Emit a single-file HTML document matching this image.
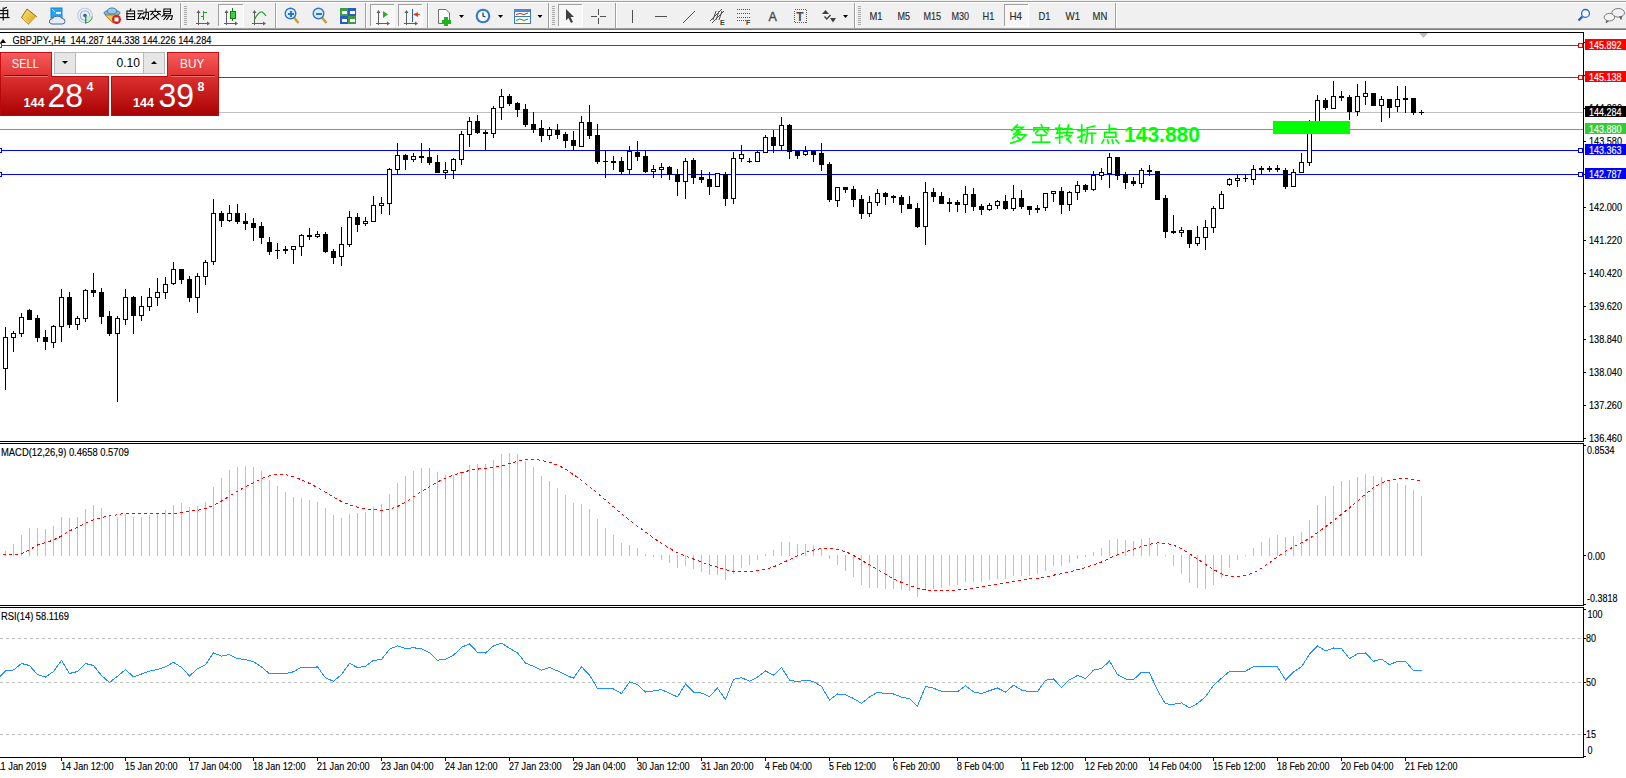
<!DOCTYPE html><html><head><meta charset="utf-8"><style>html,body{margin:0;padding:0;background:#fff;width:1626px;height:778px;overflow:hidden} svg{display:block} text{font-family:"Liberation Sans",sans-serif}</style></head><body><svg width="1626" height="778" shape-rendering="crispEdges" font-family="Liberation Sans"><rect x="0" y="0" width="1626" height="778" fill="#fff" /><rect x="0" y="0" width="1626" height="28" fill="#f0f0f0" /><rect x="0" y="1" width="1626" height="1" fill="#a0a0a0" /><rect x="0" y="2" width="1626" height="1" fill="#ffffff" /><rect x="0" y="28" width="1626" height="1" fill="#a0a0a0" /><rect x="0" y="29" width="1626" height="1" fill="#7a7a7a" /><rect x="0" y="30" width="1626" height="2" fill="#ffffff" /><g shape-rendering="auto"><polyline points="0.00,10.50 7.50,10.50" fill="none" stroke="#000" stroke-width="1.1" stroke-linecap="square" stroke-linejoin="miter"/><polyline points="0.00,13.70 7.50,13.70" fill="none" stroke="#000" stroke-width="1.1" stroke-linecap="square" stroke-linejoin="miter"/><polyline points="-1.00,17.60 9.00,17.60" fill="none" stroke="#000" stroke-width="1.1" stroke-linecap="square" stroke-linejoin="miter"/><polyline points="3.20,8.00 3.20,20.00" fill="none" stroke="#000" stroke-width="1.1" stroke-linecap="square" stroke-linejoin="miter"/><polyline points="7.70,10.00 7.70,16.50" fill="none" stroke="#000" stroke-width="1.1" stroke-linecap="square" stroke-linejoin="miter"/><polyline points="4.50,8.30 6.30,7.50" fill="none" stroke="#000" stroke-width="1.1" stroke-linecap="square" stroke-linejoin="miter"/><defs><linearGradient id="gbook" x1="0" y1="0" x2="1" y2="1"><stop offset="0" stop-color="#fff07a"/><stop offset="1" stop-color="#d39a12"/></linearGradient></defs><polygon points="27,9 36.5,16.5 28.5,24 21.5,17.5" fill="url(#gbook)" stroke="#a0620c" stroke-width="1" /><polyline points="23,18.5 29,23" fill="none" stroke="#f7e2a0" stroke-width="1" /><polyline points="29.5,23 36,17" fill="none" stroke="#e8d8a0" stroke-width="1" /><rect x="51" y="8" width="11" height="10" fill="#26a4f2" stroke="#1680d0" stroke-width="1"/><rect x="56" y="12" width="5" height="2" fill="#e8f6ff" /><polyline points="52,9 55,12" fill="none" stroke="#bfe6ff" stroke-width="1" /><path d="M49.5 22 Q49 18.8 52.5 18.8 Q53.8 15.8 57.5 16.2 Q60.8 15.8 61.8 18.4 Q65 18.4 65 21.6 Q65 24 62 24 L52.2 24 Q49.5 24 49.5 22 Z" fill="#e6ecf5" stroke="#48689e" stroke-width="1"/><circle cx="85" cy="15.5" r="7.3" fill="none" stroke="#b8cce8" stroke-width="1.1"/><circle cx="85" cy="15.5" r="4.8" fill="none" stroke="#9ab4de" stroke-width="1.1"/><path d="M85.5 16 L85.5 23 A7.3 7.3 0 0 0 92.3 16.5" fill="#cfe6cf" stroke="#3a9a3a" stroke-width="0.8"/><circle cx="85" cy="15.5" r="1.8" fill="#2a5cc8"/><rect x="85" y="15.5" width="1.3" height="8" fill="#1ea01e" /><ellipse cx="112" cy="13" rx="8" ry="3" fill="#7ab7e6" stroke="#3f7fb8" stroke-width="1"/><ellipse cx="112" cy="11" rx="4.5" ry="3" fill="#9ccaf0" stroke="#3f7fb8" stroke-width="1"/><polygon points="105,15 119,15 113,23" fill="#f2c64a" stroke="#b08020" stroke-width="1" /><circle cx="116.5" cy="19.5" r="4.5" fill="#d42020"/><rect x="114.5" y="17.5" width="4" height="4" fill="#ffffff" /><polyline points="130.75,9.00 129.80,10.90" fill="none" stroke="#000" stroke-width="1.05" stroke-linecap="square" stroke-linejoin="miter"/><polyline points="126.95,10.90 134.55,10.90 134.55,19.45 126.95,19.45 126.95,10.90" fill="none" stroke="#000" stroke-width="1.05" stroke-linecap="square" stroke-linejoin="miter"/><polyline points="126.95,13.75 134.55,13.75" fill="none" stroke="#000" stroke-width="1.05" stroke-linecap="square" stroke-linejoin="miter"/><polyline points="126.95,16.60 134.55,16.60" fill="none" stroke="#000" stroke-width="1.05" stroke-linecap="square" stroke-linejoin="miter"/><polyline points="138.00,10.90 142.75,10.90" fill="none" stroke="#000" stroke-width="1.05" stroke-linecap="square" stroke-linejoin="miter"/><polyline points="138.00,13.75 143.70,13.75" fill="none" stroke="#000" stroke-width="1.05" stroke-linecap="square" stroke-linejoin="miter"/><polyline points="140.85,13.75 138.00,18.50 143.70,17.55" fill="none" stroke="#000" stroke-width="1.05" stroke-linecap="square" stroke-linejoin="miter"/><polyline points="142.75,16.60 143.70,18.50" fill="none" stroke="#000" stroke-width="1.05" stroke-linecap="square" stroke-linejoin="miter"/><polyline points="143.70,12.32 148.45,12.32 148.45,19.45 146.55,18.50" fill="none" stroke="#000" stroke-width="1.05" stroke-linecap="square" stroke-linejoin="miter"/><polyline points="146.07,9.00 146.07,14.70 143.70,19.45" fill="none" stroke="#000" stroke-width="1.05" stroke-linecap="square" stroke-linejoin="miter"/><polyline points="155.22,9.00 155.22,10.43" fill="none" stroke="#000" stroke-width="1.05" stroke-linecap="square" stroke-linejoin="miter"/><polyline points="150.00,11.38 160.45,11.38" fill="none" stroke="#000" stroke-width="1.05" stroke-linecap="square" stroke-linejoin="miter"/><polyline points="152.85,12.32 150.95,14.70" fill="none" stroke="#000" stroke-width="1.05" stroke-linecap="square" stroke-linejoin="miter"/><polyline points="157.60,12.32 160.45,14.70" fill="none" stroke="#000" stroke-width="1.05" stroke-linecap="square" stroke-linejoin="miter"/><polyline points="152.85,13.75 158.55,19.45" fill="none" stroke="#000" stroke-width="1.05" stroke-linecap="square" stroke-linejoin="miter"/><polyline points="158.55,13.75 150.95,19.45" fill="none" stroke="#000" stroke-width="1.05" stroke-linecap="square" stroke-linejoin="miter"/><polyline points="163.90,9.00 170.55,9.00 170.55,13.75 163.90,13.75 163.90,9.00" fill="none" stroke="#000" stroke-width="1.05" stroke-linecap="square" stroke-linejoin="miter"/><polyline points="163.90,11.38 170.55,11.38" fill="none" stroke="#000" stroke-width="1.05" stroke-linecap="square" stroke-linejoin="miter"/><polyline points="164.85,13.75 162.00,16.60" fill="none" stroke="#000" stroke-width="1.05" stroke-linecap="square" stroke-linejoin="miter"/><polyline points="163.90,15.65 172.45,15.65 171.50,19.45 170.55,19.45" fill="none" stroke="#000" stroke-width="1.05" stroke-linecap="square" stroke-linejoin="miter"/><polyline points="166.75,15.65 163.90,19.45" fill="none" stroke="#000" stroke-width="1.05" stroke-linecap="square" stroke-linejoin="miter"/><polyline points="169.60,15.65 166.75,19.45" fill="none" stroke="#000" stroke-width="1.05" stroke-linecap="square" stroke-linejoin="miter"/></g><rect x="180" y="3" width="1" height="25" fill="#a0a0a0" /><rect x="181" y="3" width="1" height="25" fill="#ffffff" /><rect x="184" y="6" width="3" height="1" fill="#a8a8a8" /><rect x="184" y="8" width="3" height="1" fill="#a8a8a8" /><rect x="184" y="10" width="3" height="1" fill="#a8a8a8" /><rect x="184" y="12" width="3" height="1" fill="#a8a8a8" /><rect x="184" y="14" width="3" height="1" fill="#a8a8a8" /><rect x="184" y="16" width="3" height="1" fill="#a8a8a8" /><rect x="184" y="18" width="3" height="1" fill="#a8a8a8" /><rect x="184" y="20" width="3" height="1" fill="#a8a8a8" /><rect x="184" y="22" width="3" height="1" fill="#a8a8a8" /><rect x="184" y="24" width="3" height="1" fill="#a8a8a8" /><rect x="198" y="11" width="1" height="14" fill="#606060" /><rect x="196" y="23" width="13" height="1" fill="#606060" /><polygon points="196.5,13 198.5,10 200.5,13" fill="#606060" stroke="none" stroke-width="1" shape-rendering="auto"/><polygon points="207,21.5 210,23.5 207,25.5" fill="#606060" stroke="none" stroke-width="1" shape-rendering="auto"/><rect x="203" y="11" width="1" height="9" fill="#1fa01f" /><rect x="201" y="16" width="2" height="1" fill="#1fa01f" /><rect x="204" y="12" width="3" height="1" fill="#1fa01f" /><rect x="218" y="4" width="26" height="23" fill="#f7f7f7" /><rect x="218" y="4" width="26" height="1" fill="#a0a0a0" /><rect x="218" y="4" width="1" height="23" fill="#a0a0a0" /><rect x="218" y="26" width="26" height="1" fill="#ffffff" /><rect x="243" y="4" width="1" height="23" fill="#ffffff" /><rect x="226" y="11" width="1" height="14" fill="#606060" /><rect x="224" y="23" width="13" height="1" fill="#606060" /><polygon points="224.5,13 226.5,10 228.5,13" fill="#606060" stroke="none" stroke-width="1" shape-rendering="auto"/><polygon points="235,21.5 238,23.5 235,25.5" fill="#606060" stroke="none" stroke-width="1" shape-rendering="auto"/><rect x="232" y="8" width="1" height="13" fill="#1a7a1a" /><rect x="230" y="11" width="5" height="7" fill="#3ad43a" stroke="#1a7a1a" stroke-width="1"/><rect x="254" y="11" width="1" height="14" fill="#606060" /><rect x="252" y="23" width="13" height="1" fill="#606060" /><polygon points="252.5,13 254.5,10 256.5,13" fill="#606060" stroke="none" stroke-width="1" shape-rendering="auto"/><polygon points="263,21.5 266,23.5 263,25.5" fill="#606060" stroke="none" stroke-width="1" shape-rendering="auto"/><path d="M254.5 19.5 Q259 11 262 12 Q264 13 266 16" fill="none" stroke="#2aa02a" stroke-width="1.3" shape-rendering="auto"/><rect x="275" y="3" width="1" height="25" fill="#a0a0a0" /><rect x="276" y="3" width="1" height="25" fill="#ffffff" /><line x1="293.5" y1="17" x2="298.5" y2="23" stroke="#c9a227" stroke-width="2.6" shape-rendering="auto"/><circle cx="290.5" cy="13.5" r="5.3" fill="#d6ecfa" stroke="#2f74c8" stroke-width="1.4" shape-rendering="auto"/><rect x="287.5" y="12.5" width="6" height="2" fill="#2f74c8" /><rect x="289.5" y="10.5" width="2" height="6" fill="#2f74c8" /><line x1="321.5" y1="17" x2="326.5" y2="23" stroke="#c9a227" stroke-width="2.6" shape-rendering="auto"/><circle cx="318.5" cy="13.5" r="5.3" fill="#d6ecfa" stroke="#2f74c8" stroke-width="1.4" shape-rendering="auto"/><rect x="315.5" y="12.5" width="6" height="2" fill="#2f74c8" /><rect x="340" y="8" width="8" height="8" fill="#3aa03a" /><rect x="348" y="8" width="8" height="8" fill="#2a5cc8" /><rect x="340" y="16" width="8" height="8" fill="#2a5cc8" /><rect x="348" y="16" width="8" height="8" fill="#3aa03a" /><rect x="342" y="11" width="5" height="3" fill="#ffffff" /><rect x="350" y="11" width="5" height="3" fill="#ffffff" /><rect x="342" y="19" width="5" height="3" fill="#ffffff" /><rect x="350" y="19" width="5" height="3" fill="#ffffff" /><rect x="365" y="3" width="1" height="25" fill="#a0a0a0" /><rect x="366" y="3" width="1" height="25" fill="#ffffff" /><rect x="370" y="4" width="25" height="23" fill="#f7f7f7" /><rect x="370" y="4" width="25" height="1" fill="#a0a0a0" /><rect x="370" y="4" width="1" height="23" fill="#a0a0a0" /><rect x="370" y="26" width="25" height="1" fill="#ffffff" /><rect x="394" y="4" width="1" height="23" fill="#ffffff" /><rect x="378" y="11" width="1" height="14" fill="#606060" /><rect x="376" y="23" width="13" height="1" fill="#606060" /><polygon points="376.5,13 378.5,10 380.5,13" fill="#606060" stroke="none" stroke-width="1" shape-rendering="auto"/><polygon points="387,21.5 390,23.5 387,25.5" fill="#606060" stroke="none" stroke-width="1" shape-rendering="auto"/><polygon points="383,11 388,14.5 383,18" fill="#2ab02a" stroke="none" stroke-width="1" shape-rendering="auto"/><rect x="398" y="4" width="25" height="23" fill="#f7f7f7" /><rect x="398" y="4" width="25" height="1" fill="#a0a0a0" /><rect x="398" y="4" width="1" height="23" fill="#a0a0a0" /><rect x="398" y="26" width="25" height="1" fill="#ffffff" /><rect x="422" y="4" width="1" height="23" fill="#ffffff" /><rect x="406" y="11" width="1" height="14" fill="#606060" /><rect x="404" y="23" width="13" height="1" fill="#606060" /><polygon points="404.5,13 406.5,10 408.5,13" fill="#606060" stroke="none" stroke-width="1" shape-rendering="auto"/><polygon points="415,21.5 418,23.5 415,25.5" fill="#606060" stroke="none" stroke-width="1" shape-rendering="auto"/><rect x="412" y="9" width="1" height="13" fill="#1f5fbf" /><polygon points="413,14.5 418,12 418,17" fill="#e04020" stroke="none" stroke-width="1" shape-rendering="auto"/><rect x="416" y="14" width="4" height="1" fill="#e04020" /><rect x="427" y="3" width="1" height="25" fill="#a0a0a0" /><rect x="428" y="3" width="1" height="25" fill="#ffffff" /><path d="M438.5 9.5 H446 L449.5 13 V23.5 H438.5 Z" fill="#ffffff" stroke="#707070" stroke-width="1" shape-rendering="auto"/><rect x="444" y="17" width="4" height="9" fill="#1fb41f" /><rect x="441.5" y="19.5" width="9" height="4" fill="#1fb41f" /><polygon points="459.0,15 464.0,15 461.5,18" fill="#000" stroke="none" stroke-width="1" shape-rendering="auto"/><circle cx="483" cy="16" r="7.3" fill="#2f7ad6" shape-rendering="auto"/><circle cx="483" cy="16" r="5.2" fill="#f4f8ff" shape-rendering="auto"/><polyline points="483,12.5 483,16 485.5,17" fill="none" stroke="#333" stroke-width="1.2" shape-rendering="auto"/><polygon points="498.0,15 503.0,15 500.5,18" fill="#000" stroke="none" stroke-width="1" shape-rendering="auto"/><rect x="514" y="9" width="16" height="14" fill="#ffffff" stroke="#3a78c8" stroke-width="1"/><rect x="514" y="9" width="16" height="3" fill="#4a88d8" /><rect x="514" y="16" width="16" height="1" fill="#3a78c8" /><polyline points="516,14.5 520,13.5 524,14.5 528,13" fill="none" stroke="#b03020" stroke-width="1" shape-rendering="auto"/><polyline points="516,20.5 520,19 524,20.5 528,19" fill="none" stroke="#20a020" stroke-width="1" shape-rendering="auto"/><polygon points="537.5,15 542.5,15 540,18" fill="#000" stroke="none" stroke-width="1" shape-rendering="auto"/><rect x="548" y="3" width="1" height="25" fill="#a0a0a0" /><rect x="549" y="3" width="1" height="25" fill="#ffffff" /><rect x="552" y="6" width="3" height="1" fill="#a8a8a8" /><rect x="552" y="8" width="3" height="1" fill="#a8a8a8" /><rect x="552" y="10" width="3" height="1" fill="#a8a8a8" /><rect x="552" y="12" width="3" height="1" fill="#a8a8a8" /><rect x="552" y="14" width="3" height="1" fill="#a8a8a8" /><rect x="552" y="16" width="3" height="1" fill="#a8a8a8" /><rect x="552" y="18" width="3" height="1" fill="#a8a8a8" /><rect x="552" y="20" width="3" height="1" fill="#a8a8a8" /><rect x="552" y="22" width="3" height="1" fill="#a8a8a8" /><rect x="552" y="24" width="3" height="1" fill="#a8a8a8" /><rect x="558" y="4" width="25" height="23" fill="#f7f7f7" /><rect x="558" y="4" width="25" height="1" fill="#a0a0a0" /><rect x="558" y="4" width="1" height="23" fill="#a0a0a0" /><rect x="558" y="26" width="25" height="1" fill="#ffffff" /><rect x="582" y="4" width="1" height="23" fill="#ffffff" /><polygon points="566,9 574,17 570.5,17 573,22 571,23 568.5,18 566,20.5" fill="#404040" stroke="none" stroke-width="1" shape-rendering="auto"/><rect x="598" y="9" width="1" height="6" fill="#505050" /><rect x="598" y="18" width="1" height="6" fill="#505050" /><rect x="591" y="16" width="6" height="1" fill="#505050" /><rect x="600" y="16" width="6" height="1" fill="#505050" /><rect x="615" y="3" width="1" height="25" fill="#a0a0a0" /><rect x="616" y="3" width="1" height="25" fill="#ffffff" /><rect x="632" y="10" width="1" height="13" fill="#505050" /><rect x="655" y="16" width="12" height="1" fill="#505050" /><polyline points="683,23 695,11" fill="none" stroke="#505050" stroke-width="1" shape-rendering="auto"/><polyline points="710,21 722,9" fill="none" stroke="#505050" stroke-width="1" shape-rendering="auto"/><polyline points="712,23 724,11" fill="none" stroke="#505050" stroke-width="1" shape-rendering="auto"/><polyline points="713,20 716,11" fill="none" stroke="#505050" stroke-width="1" shape-rendering="auto"/><polyline points="716,20 719,11" fill="none" stroke="#505050" stroke-width="1" shape-rendering="auto"/><polyline points="719,20 722,11" fill="none" stroke="#505050" stroke-width="1" shape-rendering="auto"/><text x="720" y="25" font-size="7" fill="#404040" font-weight="bold" >E</text><line x1="737" y1="9.5" x2="750" y2="9.5" stroke="#505050" stroke-width="1" stroke-dasharray="1,1"/><line x1="737" y1="13.5" x2="750" y2="13.5" stroke="#505050" stroke-width="1" stroke-dasharray="1,1"/><line x1="737" y1="17.5" x2="750" y2="17.5" stroke="#505050" stroke-width="1" stroke-dasharray="1,1"/><line x1="737" y1="20.5" x2="750" y2="20.5" stroke="#505050" stroke-width="1" stroke-dasharray="1,1"/><text x="746" y="25" font-size="7" fill="#404040" font-weight="bold" >F</text><text x="768.5" y="21" font-size="12.5" fill="#4a4a4a" stroke="#4a4a4a" stroke-width="0.35">A</text><rect x="794.5" y="9.5" width="12" height="13" fill="none" stroke="#606060" stroke-width="1" stroke-dasharray="1,1"/><text x="796.3" y="21" font-size="12" fill="#4a4a4a" font-weight="bold" >T</text><polygon points="822,14 825.5,10 829,14" fill="#404040" stroke="none" stroke-width="1" shape-rendering="auto"/><polygon points="830,18 833,22.5 836,18" fill="#404040" stroke="none" stroke-width="1" shape-rendering="auto"/><polyline points="824.5,16.5 826.8,19 830.5,15" fill="none" stroke="#404040" stroke-width="1.4" shape-rendering="auto"/><polygon points="843.0,15 848.0,15 845.5,18" fill="#000" stroke="none" stroke-width="1" shape-rendering="auto"/><rect x="854" y="3" width="1" height="25" fill="#a0a0a0" /><rect x="855" y="3" width="1" height="25" fill="#ffffff" /><rect x="858" y="6" width="3" height="1" fill="#a8a8a8" /><rect x="858" y="8" width="3" height="1" fill="#a8a8a8" /><rect x="858" y="10" width="3" height="1" fill="#a8a8a8" /><rect x="858" y="12" width="3" height="1" fill="#a8a8a8" /><rect x="858" y="14" width="3" height="1" fill="#a8a8a8" /><rect x="858" y="16" width="3" height="1" fill="#a8a8a8" /><rect x="858" y="18" width="3" height="1" fill="#a8a8a8" /><rect x="858" y="20" width="3" height="1" fill="#a8a8a8" /><rect x="858" y="22" width="3" height="1" fill="#a8a8a8" /><rect x="858" y="24" width="3" height="1" fill="#a8a8a8" /><text x="869.5" y="20" font-size="10.5" fill="#2c2c2c" textLength="13" lengthAdjust="spacingAndGlyphs"  stroke="#2c2c2c" stroke-width="0.15">M1</text><text x="897.5" y="20" font-size="10.5" fill="#2c2c2c" textLength="12.6" lengthAdjust="spacingAndGlyphs"  stroke="#2c2c2c" stroke-width="0.15">M5</text><text x="923.5" y="20" font-size="10.5" fill="#2c2c2c" textLength="17.6" lengthAdjust="spacingAndGlyphs"  stroke="#2c2c2c" stroke-width="0.15">M15</text><text x="951.5" y="20" font-size="10.5" fill="#2c2c2c" textLength="17.6" lengthAdjust="spacingAndGlyphs"  stroke="#2c2c2c" stroke-width="0.15">M30</text><text x="982.5" y="20" font-size="10.5" fill="#2c2c2c" textLength="11.8" lengthAdjust="spacingAndGlyphs"  stroke="#2c2c2c" stroke-width="0.15">H1</text><text x="1038.5" y="20" font-size="10.5" fill="#2c2c2c" textLength="12" lengthAdjust="spacingAndGlyphs"  stroke="#2c2c2c" stroke-width="0.15">D1</text><text x="1065.5" y="20" font-size="10.5" fill="#2c2c2c" textLength="14.6" lengthAdjust="spacingAndGlyphs"  stroke="#2c2c2c" stroke-width="0.15">W1</text><text x="1092.5" y="20" font-size="10.5" fill="#2c2c2c" textLength="14.8" lengthAdjust="spacingAndGlyphs"  stroke="#2c2c2c" stroke-width="0.15">MN</text><rect x="1004" y="4" width="25" height="23" fill="#f7f7f7" /><rect x="1004" y="4" width="25" height="1" fill="#a0a0a0" /><rect x="1004" y="4" width="1" height="23" fill="#a0a0a0" /><rect x="1004" y="26" width="25" height="1" fill="#ffffff" /><rect x="1028" y="4" width="1" height="23" fill="#ffffff" /><text x="1009.5" y="20" font-size="10.5" fill="#2c2c2c" textLength="12.6" lengthAdjust="spacingAndGlyphs"  stroke="#2c2c2c" stroke-width="0.15">H4</text><rect x="1115" y="3" width="1" height="25" fill="#a0a0a0" /><rect x="1116" y="3" width="1" height="25" fill="#ffffff" /><g shape-rendering="auto"><line x1="1578.5" y1="20.5" x2="1582.5" y2="16.5" stroke="#1f5fcf" stroke-width="2.4"/><circle cx="1585.5" cy="13.4" r="3.9" fill="#fbfbff" stroke="#1f62d8" stroke-width="1.3"/><ellipse cx="1618.2" cy="12.8" rx="6.3" ry="4.3" fill="#f2f2f6" stroke="#7a7a7a" stroke-width="1"/><path d="M1619.5 16.5 L1621 19.5 L1622 16" fill="#606060" stroke="#606060" stroke-width="0.8"/><ellipse cx="1609.4" cy="17.2" rx="5.2" ry="3.8" fill="#f2f2f6" stroke="#7a7a7a" stroke-width="1"/><path d="M1606.5 20.5 L1606 23 L1608.5 21" fill="#606060" stroke="#606060" stroke-width="0.8"/></g><rect x="0" y="32" width="1583" height="1" fill="#000" /><rect x="1583" y="32" width="1" height="410" fill="#000" /><rect x="0" y="441" width="1584" height="1" fill="#000" /><rect x="0" y="443" width="1584" height="1" fill="#000" /><rect x="1583" y="443" width="1" height="163" fill="#000" /><rect x="0" y="605" width="1584" height="1" fill="#000" /><rect x="0" y="607" width="1584" height="1" fill="#000" /><rect x="1583" y="607" width="1" height="151" fill="#000" /><rect x="0" y="757" width="1584" height="1" fill="#000" /><rect x="0" y="112" width="1583" height="1" fill="#c0c0c0" /><rect x="0" y="129" width="1583" height="1" fill="#32cd32" /><rect x="0" y="45" width="1583" height="1" fill="#ff0000" /><rect x="-2.5" y="43.5" width="4" height="4" fill="#fff" stroke="#ff0000" stroke-width="1"/><rect x="1578.5" y="43.5" width="4" height="4" fill="#fff" stroke="#ff0000" stroke-width="1"/><rect x="0" y="77" width="1583" height="1" fill="#ff0000" /><rect x="-2.5" y="75.5" width="4" height="4" fill="#fff" stroke="#ff0000" stroke-width="1"/><rect x="1578.5" y="75.5" width="4" height="4" fill="#fff" stroke="#ff0000" stroke-width="1"/><rect x="0" y="150" width="1583" height="1" fill="#0000ff" /><rect x="-2.5" y="148.5" width="4" height="4" fill="#fff" stroke="#0000ff" stroke-width="1"/><rect x="1578.5" y="148.5" width="4" height="4" fill="#fff" stroke="#0000ff" stroke-width="1"/><rect x="0" y="174" width="1583" height="1" fill="#0000ff" /><rect x="-2.5" y="172.5" width="4" height="4" fill="#fff" stroke="#0000ff" stroke-width="1"/><rect x="1578.5" y="172.5" width="4" height="4" fill="#fff" stroke="#0000ff" stroke-width="1"/><rect x="5" y="327" width="1" height="63" fill="#000" /><rect x="3.5" y="337.5" width="4" height="31" fill="#fff" stroke="#000" stroke-width="1"/><rect x="13" y="331" width="1" height="21" fill="#000" /><rect x="11.5" y="333.5" width="4" height="4" fill="#fff" stroke="#000" stroke-width="1"/><rect x="21" y="313" width="1" height="24" fill="#000" /><rect x="19.5" y="317.5" width="4" height="16" fill="#fff" stroke="#000" stroke-width="1"/><rect x="29" y="309" width="1" height="11" fill="#000" /><rect x="27" y="310" width="5" height="10" fill="#000" /><rect x="37" y="315" width="1" height="27" fill="#000" /><rect x="35" y="318" width="5" height="20" fill="#000" /><rect x="45" y="330" width="1" height="20" fill="#000" /><rect x="43" y="337" width="5" height="5" fill="#000" /><rect x="53" y="325" width="1" height="23" fill="#000" /><rect x="51.5" y="326.5" width="4" height="16" fill="#fff" stroke="#000" stroke-width="1"/><rect x="61" y="289" width="1" height="53" fill="#000" /><rect x="59.5" y="297.5" width="4" height="29" fill="#fff" stroke="#000" stroke-width="1"/><rect x="69" y="292" width="1" height="36" fill="#000" /><rect x="67" y="297" width="5" height="28" fill="#000" /><rect x="77" y="316" width="1" height="14" fill="#000" /><rect x="75.5" y="318.5" width="4" height="6" fill="#fff" stroke="#000" stroke-width="1"/><rect x="85" y="289" width="1" height="33" fill="#000" /><rect x="83.5" y="290.5" width="4" height="28" fill="#fff" stroke="#000" stroke-width="1"/><rect x="93" y="273" width="1" height="24" fill="#000" /><rect x="91" y="290" width="5" height="3" fill="#000" /><rect x="101" y="288" width="1" height="36" fill="#000" /><rect x="99" y="292" width="5" height="25" fill="#000" /><rect x="109" y="311" width="1" height="25" fill="#000" /><rect x="107" y="316" width="5" height="18" fill="#000" /><rect x="117" y="316" width="1" height="86" fill="#000" /><rect x="115.5" y="318.5" width="4" height="15" fill="#fff" stroke="#000" stroke-width="1"/><rect x="125" y="289" width="1" height="36" fill="#000" /><rect x="123.5" y="297.5" width="4" height="22" fill="#fff" stroke="#000" stroke-width="1"/><rect x="133" y="296" width="1" height="38" fill="#000" /><rect x="131" y="297" width="5" height="19" fill="#000" /><rect x="141" y="296" width="1" height="25" fill="#000" /><rect x="139.5" y="306.5" width="4" height="9" fill="#fff" stroke="#000" stroke-width="1"/><rect x="149" y="288" width="1" height="23" fill="#000" /><rect x="147.5" y="297.5" width="4" height="9" fill="#fff" stroke="#000" stroke-width="1"/><rect x="157" y="278" width="1" height="28" fill="#000" /><rect x="155.5" y="292.5" width="4" height="5" fill="#fff" stroke="#000" stroke-width="1"/><rect x="165" y="277" width="1" height="22" fill="#000" /><rect x="163.5" y="284.5" width="4" height="8" fill="#fff" stroke="#000" stroke-width="1"/><rect x="173" y="262" width="1" height="23" fill="#000" /><rect x="171.5" y="269.5" width="4" height="14" fill="#fff" stroke="#000" stroke-width="1"/><rect x="181" y="269" width="1" height="15" fill="#000" /><rect x="179" y="269" width="5" height="11" fill="#000" /><rect x="189" y="276" width="1" height="26" fill="#000" /><rect x="187" y="279" width="5" height="19" fill="#000" /><rect x="197" y="273" width="1" height="40" fill="#000" /><rect x="195.5" y="276.5" width="4" height="21" fill="#fff" stroke="#000" stroke-width="1"/><rect x="205" y="260" width="1" height="25" fill="#000" /><rect x="203.5" y="262.5" width="4" height="14" fill="#fff" stroke="#000" stroke-width="1"/><rect x="213" y="199" width="1" height="66" fill="#000" /><rect x="211.5" y="213.5" width="4" height="48" fill="#fff" stroke="#000" stroke-width="1"/><rect x="221" y="211" width="1" height="16" fill="#000" /><rect x="219" y="213" width="5" height="8" fill="#000" /><rect x="229" y="205" width="1" height="17" fill="#000" /><rect x="227.5" y="213.5" width="4" height="7" fill="#fff" stroke="#000" stroke-width="1"/><rect x="237" y="204" width="1" height="20" fill="#000" /><rect x="235" y="213" width="5" height="9" fill="#000" /><rect x="245" y="213" width="1" height="17" fill="#000" /><rect x="243" y="221" width="5" height="3" fill="#000" /><rect x="253" y="218" width="1" height="23" fill="#000" /><rect x="251" y="223" width="5" height="5" fill="#000" /><rect x="261" y="222" width="1" height="22" fill="#000" /><rect x="259" y="226" width="5" height="12" fill="#000" /><rect x="269" y="237" width="1" height="18" fill="#000" /><rect x="267" y="242" width="5" height="10" fill="#000" /><rect x="277" y="243" width="1" height="16" fill="#000" /><rect x="275" y="250" width="5" height="1" fill="#000" /><rect x="285" y="246" width="1" height="8" fill="#000" /><rect x="283" y="249" width="5" height="2" fill="#000" /><rect x="293" y="246" width="1" height="18" fill="#000" /><rect x="291.5" y="246.5" width="4" height="3" fill="#fff" stroke="#000" stroke-width="1"/><rect x="301" y="234" width="1" height="22" fill="#000" /><rect x="299.5" y="235.5" width="4" height="11" fill="#fff" stroke="#000" stroke-width="1"/><rect x="309" y="228" width="1" height="12" fill="#000" /><rect x="307" y="235" width="5" height="2" fill="#000" /><rect x="317" y="231" width="1" height="7" fill="#000" /><rect x="315.5" y="234.5" width="4" height="2" fill="#fff" stroke="#000" stroke-width="1"/><rect x="325" y="232" width="1" height="21" fill="#000" /><rect x="323" y="234" width="5" height="18" fill="#000" /><rect x="333" y="249" width="1" height="15" fill="#000" /><rect x="331" y="251" width="5" height="7" fill="#000" /><rect x="341" y="227" width="1" height="39" fill="#000" /><rect x="339.5" y="244.5" width="4" height="12" fill="#fff" stroke="#000" stroke-width="1"/><rect x="349" y="211" width="1" height="36" fill="#000" /><rect x="347.5" y="217.5" width="4" height="27" fill="#fff" stroke="#000" stroke-width="1"/><rect x="357" y="213" width="1" height="19" fill="#000" /><rect x="355" y="217" width="5" height="8" fill="#000" /><rect x="365" y="217" width="1" height="9" fill="#000" /><rect x="363.5" y="221.5" width="4" height="2" fill="#fff" stroke="#000" stroke-width="1"/><rect x="373" y="196" width="1" height="26" fill="#000" /><rect x="371.5" y="205.5" width="4" height="16" fill="#fff" stroke="#000" stroke-width="1"/><rect x="381" y="197" width="1" height="17" fill="#000" /><rect x="379.5" y="203.5" width="4" height="2" fill="#fff" stroke="#000" stroke-width="1"/><rect x="389" y="168" width="1" height="47" fill="#000" /><rect x="387.5" y="169.5" width="4" height="34" fill="#fff" stroke="#000" stroke-width="1"/><rect x="397" y="143" width="1" height="32" fill="#000" /><rect x="395.5" y="155.5" width="4" height="14" fill="#fff" stroke="#000" stroke-width="1"/><rect x="405" y="154" width="1" height="16" fill="#000" /><rect x="403" y="155" width="5" height="5" fill="#000" /><rect x="413" y="153" width="1" height="9" fill="#000" /><rect x="411.5" y="156.5" width="4" height="3" fill="#fff" stroke="#000" stroke-width="1"/><rect x="421" y="143" width="1" height="20" fill="#000" /><rect x="419" y="156" width="5" height="2" fill="#000" /><rect x="429" y="148" width="1" height="17" fill="#000" /><rect x="427" y="157" width="5" height="6" fill="#000" /><rect x="437" y="155" width="1" height="18" fill="#000" /><rect x="435" y="162" width="5" height="11" fill="#000" /><rect x="445" y="162" width="1" height="17" fill="#000" /><rect x="443.5" y="170.5" width="4" height="2" fill="#fff" stroke="#000" stroke-width="1"/><rect x="453" y="158" width="1" height="21" fill="#000" /><rect x="451.5" y="159.5" width="4" height="11" fill="#fff" stroke="#000" stroke-width="1"/><rect x="461" y="131" width="1" height="34" fill="#000" /><rect x="459.5" y="134.5" width="4" height="25" fill="#fff" stroke="#000" stroke-width="1"/><rect x="469" y="117" width="1" height="30" fill="#000" /><rect x="467.5" y="121.5" width="4" height="13" fill="#fff" stroke="#000" stroke-width="1"/><rect x="477" y="115" width="1" height="19" fill="#000" /><rect x="475" y="121" width="5" height="12" fill="#000" /><rect x="485" y="130" width="1" height="20" fill="#000" /><rect x="483" y="132" width="5" height="2" fill="#000" /><rect x="493" y="106" width="1" height="32" fill="#000" /><rect x="491.5" y="108.5" width="4" height="25" fill="#fff" stroke="#000" stroke-width="1"/><rect x="501" y="89" width="1" height="31" fill="#000" /><rect x="499.5" y="96.5" width="4" height="11" fill="#fff" stroke="#000" stroke-width="1"/><rect x="509" y="94" width="1" height="12" fill="#000" /><rect x="507" y="96" width="5" height="8" fill="#000" /><rect x="517" y="102" width="1" height="15" fill="#000" /><rect x="515" y="103" width="5" height="7" fill="#000" /><rect x="525" y="104" width="1" height="23" fill="#000" /><rect x="523" y="109" width="5" height="16" fill="#000" /><rect x="533" y="112" width="1" height="21" fill="#000" /><rect x="531" y="124" width="5" height="6" fill="#000" /><rect x="541" y="120" width="1" height="22" fill="#000" /><rect x="539" y="128" width="5" height="8" fill="#000" /><rect x="549" y="127" width="1" height="13" fill="#000" /><rect x="547.5" y="129.5" width="4" height="6" fill="#fff" stroke="#000" stroke-width="1"/><rect x="557" y="124" width="1" height="15" fill="#000" /><rect x="555" y="130" width="5" height="5" fill="#000" /><rect x="565" y="132" width="1" height="16" fill="#000" /><rect x="563" y="134" width="5" height="7" fill="#000" /><rect x="573" y="131" width="1" height="20" fill="#000" /><rect x="571" y="140" width="5" height="6" fill="#000" /><rect x="581" y="116" width="1" height="31" fill="#000" /><rect x="579.5" y="122.5" width="4" height="24" fill="#fff" stroke="#000" stroke-width="1"/><rect x="589" y="105" width="1" height="34" fill="#000" /><rect x="587" y="122" width="5" height="14" fill="#000" /><rect x="597" y="124" width="1" height="40" fill="#000" /><rect x="595" y="135" width="5" height="27" fill="#000" /><rect x="605" y="150" width="1" height="28" fill="#000" /><rect x="603" y="161" width="5" height="1" fill="#000" /><rect x="613" y="156" width="1" height="14" fill="#000" /><rect x="611" y="161" width="5" height="2" fill="#000" /><rect x="621" y="157" width="1" height="18" fill="#000" /><rect x="619" y="161" width="5" height="11" fill="#000" /><rect x="629" y="146" width="1" height="29" fill="#000" /><rect x="627.5" y="151.5" width="4" height="18" fill="#fff" stroke="#000" stroke-width="1"/><rect x="637" y="141" width="1" height="20" fill="#000" /><rect x="635" y="152" width="5" height="5" fill="#000" /><rect x="645" y="150" width="1" height="23" fill="#000" /><rect x="643" y="156" width="5" height="16" fill="#000" /><rect x="653" y="165" width="1" height="13" fill="#000" /><rect x="651.5" y="169.5" width="4" height="2" fill="#fff" stroke="#000" stroke-width="1"/><rect x="661" y="163" width="1" height="15" fill="#000" /><rect x="659.5" y="167.5" width="4" height="2" fill="#fff" stroke="#000" stroke-width="1"/><rect x="669" y="166" width="1" height="14" fill="#000" /><rect x="667" y="167" width="5" height="8" fill="#000" /><rect x="677" y="169" width="1" height="27" fill="#000" /><rect x="675" y="174" width="5" height="8" fill="#000" /><rect x="685" y="158" width="1" height="41" fill="#000" /><rect x="683.5" y="161.5" width="4" height="20" fill="#fff" stroke="#000" stroke-width="1"/><rect x="693" y="158" width="1" height="26" fill="#000" /><rect x="691" y="160" width="5" height="18" fill="#000" /><rect x="701" y="170" width="1" height="13" fill="#000" /><rect x="699" y="177" width="5" height="3" fill="#000" /><rect x="709" y="172" width="1" height="23" fill="#000" /><rect x="707" y="179" width="5" height="8" fill="#000" /><rect x="717" y="173" width="1" height="14" fill="#000" /><rect x="715.5" y="173.5" width="4" height="13" fill="#fff" stroke="#000" stroke-width="1"/><rect x="725" y="172" width="1" height="34" fill="#000" /><rect x="723" y="174" width="5" height="25" fill="#000" /><rect x="733" y="152" width="1" height="52" fill="#000" /><rect x="731.5" y="158.5" width="4" height="40" fill="#fff" stroke="#000" stroke-width="1"/><rect x="741" y="145" width="1" height="17" fill="#000" /><rect x="739.5" y="154.5" width="4" height="4" fill="#fff" stroke="#000" stroke-width="1"/><rect x="749" y="158" width="1" height="5" fill="#000" /><rect x="747" y="161" width="5" height="1" fill="#000" /><rect x="757" y="151" width="1" height="11" fill="#000" /><rect x="755.5" y="152.5" width="4" height="9" fill="#fff" stroke="#000" stroke-width="1"/><rect x="765" y="135" width="1" height="18" fill="#000" /><rect x="763.5" y="137.5" width="4" height="15" fill="#fff" stroke="#000" stroke-width="1"/><rect x="773" y="130" width="1" height="23" fill="#000" /><rect x="771" y="137" width="5" height="9" fill="#000" /><rect x="781" y="117" width="1" height="34" fill="#000" /><rect x="779.5" y="125.5" width="4" height="20" fill="#fff" stroke="#000" stroke-width="1"/><rect x="789" y="124" width="1" height="35" fill="#000" /><rect x="787" y="125" width="5" height="27" fill="#000" /><rect x="797" y="150" width="1" height="9" fill="#000" /><rect x="795" y="151" width="5" height="5" fill="#000" /><rect x="805" y="146" width="1" height="10" fill="#000" /><rect x="803.5" y="151.5" width="4" height="3" fill="#fff" stroke="#000" stroke-width="1"/><rect x="813" y="150" width="1" height="12" fill="#000" /><rect x="811" y="151" width="5" height="4" fill="#000" /><rect x="821" y="143" width="1" height="28" fill="#000" /><rect x="819" y="153" width="5" height="12" fill="#000" /><rect x="829" y="162" width="1" height="40" fill="#000" /><rect x="827" y="164" width="5" height="36" fill="#000" /><rect x="837" y="187" width="1" height="20" fill="#000" /><rect x="835.5" y="187.5" width="4" height="13" fill="#fff" stroke="#000" stroke-width="1"/><rect x="845" y="187" width="1" height="6" fill="#000" /><rect x="843" y="187" width="5" height="3" fill="#000" /><rect x="853" y="186" width="1" height="21" fill="#000" /><rect x="851" y="189" width="5" height="11" fill="#000" /><rect x="861" y="195" width="1" height="24" fill="#000" /><rect x="859" y="199" width="5" height="15" fill="#000" /><rect x="869" y="196" width="1" height="21" fill="#000" /><rect x="867.5" y="202.5" width="4" height="11" fill="#fff" stroke="#000" stroke-width="1"/><rect x="877" y="189" width="1" height="17" fill="#000" /><rect x="875.5" y="193.5" width="4" height="9" fill="#fff" stroke="#000" stroke-width="1"/><rect x="885" y="192" width="1" height="13" fill="#000" /><rect x="883" y="193" width="5" height="4" fill="#000" /><rect x="893" y="195" width="1" height="8" fill="#000" /><rect x="891" y="196" width="5" height="2" fill="#000" /><rect x="901" y="195" width="1" height="18" fill="#000" /><rect x="899" y="197" width="5" height="8" fill="#000" /><rect x="909" y="196" width="1" height="13" fill="#000" /><rect x="907" y="204" width="5" height="5" fill="#000" /><rect x="917" y="203" width="1" height="25" fill="#000" /><rect x="915" y="208" width="5" height="19" fill="#000" /><rect x="925" y="182" width="1" height="63" fill="#000" /><rect x="923.5" y="192.5" width="4" height="34" fill="#fff" stroke="#000" stroke-width="1"/><rect x="933" y="188" width="1" height="14" fill="#000" /><rect x="931" y="192" width="5" height="5" fill="#000" /><rect x="941" y="192" width="1" height="12" fill="#000" /><rect x="939" y="196" width="5" height="8" fill="#000" /><rect x="949" y="198" width="1" height="14" fill="#000" /><rect x="947" y="202" width="5" height="2" fill="#000" /><rect x="957" y="200" width="1" height="12" fill="#000" /><rect x="955" y="202" width="5" height="3" fill="#000" /><rect x="965" y="186" width="1" height="27" fill="#000" /><rect x="963.5" y="194.5" width="4" height="10" fill="#fff" stroke="#000" stroke-width="1"/><rect x="973" y="188" width="1" height="23" fill="#000" /><rect x="971" y="194" width="5" height="13" fill="#000" /><rect x="981" y="204" width="1" height="11" fill="#000" /><rect x="979" y="206" width="5" height="4" fill="#000" /><rect x="989" y="203" width="1" height="8" fill="#000" /><rect x="987.5" y="205.5" width="4" height="4" fill="#fff" stroke="#000" stroke-width="1"/><rect x="997" y="200" width="1" height="9" fill="#000" /><rect x="995.5" y="201.5" width="4" height="4" fill="#fff" stroke="#000" stroke-width="1"/><rect x="1005" y="195" width="1" height="15" fill="#000" /><rect x="1003" y="201" width="5" height="8" fill="#000" /><rect x="1013" y="185" width="1" height="26" fill="#000" /><rect x="1011.5" y="198.5" width="4" height="10" fill="#fff" stroke="#000" stroke-width="1"/><rect x="1021" y="190" width="1" height="19" fill="#000" /><rect x="1019" y="198" width="5" height="9" fill="#000" /><rect x="1029" y="206" width="1" height="9" fill="#000" /><rect x="1027" y="206" width="5" height="4" fill="#000" /><rect x="1037" y="205" width="1" height="8" fill="#000" /><rect x="1035" y="208" width="5" height="2" fill="#000" /><rect x="1045" y="193" width="1" height="18" fill="#000" /><rect x="1043.5" y="193.5" width="4" height="14" fill="#fff" stroke="#000" stroke-width="1"/><rect x="1053" y="191" width="1" height="11" fill="#000" /><rect x="1051.5" y="191.5" width="4" height="2" fill="#fff" stroke="#000" stroke-width="1"/><rect x="1061" y="187" width="1" height="27" fill="#000" /><rect x="1059" y="191" width="5" height="14" fill="#000" /><rect x="1069" y="191" width="1" height="20" fill="#000" /><rect x="1067.5" y="192.5" width="4" height="12" fill="#fff" stroke="#000" stroke-width="1"/><rect x="1077" y="181" width="1" height="19" fill="#000" /><rect x="1075.5" y="185.5" width="4" height="7" fill="#fff" stroke="#000" stroke-width="1"/><rect x="1085" y="184" width="1" height="8" fill="#000" /><rect x="1083" y="185" width="5" height="5" fill="#000" /><rect x="1093" y="171" width="1" height="20" fill="#000" /><rect x="1091.5" y="175.5" width="4" height="14" fill="#fff" stroke="#000" stroke-width="1"/><rect x="1101" y="168" width="1" height="12" fill="#000" /><rect x="1099.5" y="172.5" width="4" height="3" fill="#fff" stroke="#000" stroke-width="1"/><rect x="1109" y="153" width="1" height="35" fill="#000" /><rect x="1107.5" y="157.5" width="4" height="16" fill="#fff" stroke="#000" stroke-width="1"/><rect x="1117" y="157" width="1" height="23" fill="#000" /><rect x="1115" y="157" width="5" height="19" fill="#000" /><rect x="1125" y="172" width="1" height="17" fill="#000" /><rect x="1123" y="174" width="5" height="9" fill="#000" /><rect x="1133" y="177" width="1" height="9" fill="#000" /><rect x="1131" y="181" width="5" height="3" fill="#000" /><rect x="1141" y="168" width="1" height="20" fill="#000" /><rect x="1139.5" y="170.5" width="4" height="13" fill="#fff" stroke="#000" stroke-width="1"/><rect x="1149" y="165" width="1" height="11" fill="#000" /><rect x="1147" y="170" width="5" height="2" fill="#000" /><rect x="1157" y="171" width="1" height="29" fill="#000" /><rect x="1155" y="171" width="5" height="29" fill="#000" /><rect x="1165" y="195" width="1" height="43" fill="#000" /><rect x="1163" y="198" width="5" height="34" fill="#000" /><rect x="1173" y="215" width="1" height="19" fill="#000" /><rect x="1171" y="231" width="5" height="2" fill="#000" /><rect x="1181" y="227" width="1" height="10" fill="#000" /><rect x="1179.5" y="230.5" width="4" height="2" fill="#fff" stroke="#000" stroke-width="1"/><rect x="1189" y="230" width="1" height="18" fill="#000" /><rect x="1187" y="230" width="5" height="14" fill="#000" /><rect x="1197" y="226" width="1" height="20" fill="#000" /><rect x="1195.5" y="237.5" width="4" height="6" fill="#fff" stroke="#000" stroke-width="1"/><rect x="1205" y="220" width="1" height="30" fill="#000" /><rect x="1203.5" y="227.5" width="4" height="10" fill="#fff" stroke="#000" stroke-width="1"/><rect x="1213" y="206" width="1" height="27" fill="#000" /><rect x="1211.5" y="208.5" width="4" height="19" fill="#fff" stroke="#000" stroke-width="1"/><rect x="1221" y="191" width="1" height="18" fill="#000" /><rect x="1219.5" y="194.5" width="4" height="14" fill="#fff" stroke="#000" stroke-width="1"/><rect x="1229" y="178" width="1" height="8" fill="#000" /><rect x="1227.5" y="179.5" width="4" height="5" fill="#fff" stroke="#000" stroke-width="1"/><rect x="1237" y="174" width="1" height="13" fill="#000" /><rect x="1235.5" y="178.5" width="4" height="2" fill="#fff" stroke="#000" stroke-width="1"/><rect x="1245" y="174" width="1" height="8" fill="#000" /><rect x="1243" y="178" width="5" height="1" fill="#000" /><rect x="1253" y="165" width="1" height="20" fill="#000" /><rect x="1251.5" y="169.5" width="4" height="10" fill="#fff" stroke="#000" stroke-width="1"/><rect x="1261" y="166" width="1" height="9" fill="#000" /><rect x="1259" y="168" width="5" height="2" fill="#000" /><rect x="1269" y="166" width="1" height="6" fill="#000" /><rect x="1267" y="168" width="5" height="2" fill="#000" /><rect x="1277" y="165" width="1" height="7" fill="#000" /><rect x="1275" y="168" width="5" height="2" fill="#000" /><rect x="1285" y="168" width="1" height="21" fill="#000" /><rect x="1283" y="170" width="5" height="17" fill="#000" /><rect x="1293" y="169" width="1" height="18" fill="#000" /><rect x="1291.5" y="172.5" width="4" height="14" fill="#fff" stroke="#000" stroke-width="1"/><rect x="1301" y="153" width="1" height="20" fill="#000" /><rect x="1299.5" y="162.5" width="4" height="10" fill="#fff" stroke="#000" stroke-width="1"/><rect x="1309" y="120" width="1" height="46" fill="#000" /><rect x="1307.5" y="130.5" width="4" height="32" fill="#fff" stroke="#000" stroke-width="1"/><rect x="1317" y="95" width="1" height="36" fill="#000" /><rect x="1315.5" y="100.5" width="4" height="30" fill="#fff" stroke="#000" stroke-width="1"/><rect x="1325" y="98" width="1" height="12" fill="#000" /><rect x="1323" y="100" width="5" height="8" fill="#000" /><rect x="1333" y="81" width="1" height="28" fill="#000" /><rect x="1331.5" y="96.5" width="4" height="12" fill="#fff" stroke="#000" stroke-width="1"/><rect x="1341" y="91" width="1" height="10" fill="#000" /><rect x="1339" y="96" width="5" height="2" fill="#000" /><rect x="1349" y="95" width="1" height="25" fill="#000" /><rect x="1347" y="97" width="5" height="15" fill="#000" /><rect x="1357" y="84" width="1" height="32" fill="#000" /><rect x="1355.5" y="96.5" width="4" height="15" fill="#fff" stroke="#000" stroke-width="1"/><rect x="1365" y="81" width="1" height="24" fill="#000" /><rect x="1363.5" y="93.5" width="4" height="3" fill="#fff" stroke="#000" stroke-width="1"/><rect x="1373" y="93" width="1" height="13" fill="#000" /><rect x="1371" y="93" width="5" height="13" fill="#000" /><rect x="1381" y="96" width="1" height="26" fill="#000" /><rect x="1379.5" y="99.5" width="4" height="6" fill="#fff" stroke="#000" stroke-width="1"/><rect x="1389" y="99" width="1" height="19" fill="#000" /><rect x="1387" y="99" width="5" height="9" fill="#000" /><rect x="1397" y="86" width="1" height="26" fill="#000" /><rect x="1395.5" y="99.5" width="4" height="7" fill="#fff" stroke="#000" stroke-width="1"/><rect x="1405" y="86" width="1" height="27" fill="#000" /><rect x="1403" y="98" width="5" height="2" fill="#000" /><rect x="1413" y="98" width="1" height="17" fill="#000" /><rect x="1411" y="98" width="5" height="15" fill="#000" /><rect x="1421" y="110" width="1" height="5" fill="#000" /><rect x="1419" y="112" width="5" height="1" fill="#000" /><rect x="1273" y="121" width="77" height="13" fill="#00ff00" /><g shape-rendering="auto"><polyline points="1017.37,125.00 1011.79,130.58" fill="none" stroke="#00ff00" stroke-width="1.7" stroke-linecap="square" stroke-linejoin="miter"/><polyline points="1014.58,127.33 1022.95,127.33 1013.65,134.30" fill="none" stroke="#00ff00" stroke-width="1.7" stroke-linecap="square" stroke-linejoin="miter"/><polyline points="1016.44,129.65 1018.30,131.51" fill="none" stroke="#00ff00" stroke-width="1.7" stroke-linecap="square" stroke-linejoin="miter"/><polyline points="1020.16,131.97 1012.72,138.02" fill="none" stroke="#00ff00" stroke-width="1.7" stroke-linecap="square" stroke-linejoin="miter"/><polyline points="1016.44,134.76 1025.74,134.76 1021.09,139.88 1010.86,143.13" fill="none" stroke="#00ff00" stroke-width="1.7" stroke-linecap="square" stroke-linejoin="miter"/><polyline points="1017.37,137.09 1020.16,139.41" fill="none" stroke="#00ff00" stroke-width="1.7" stroke-linecap="square" stroke-linejoin="miter"/><polyline points="1041.30,125.00 1042.23,126.86" fill="none" stroke="#00ff00" stroke-width="1.7" stroke-linecap="square" stroke-linejoin="miter"/><polyline points="1033.86,130.58 1033.86,127.79 1048.74,127.79 1047.81,130.58" fill="none" stroke="#00ff00" stroke-width="1.7" stroke-linecap="square" stroke-linejoin="miter"/><polyline points="1038.51,129.65 1035.72,133.37" fill="none" stroke="#00ff00" stroke-width="1.7" stroke-linecap="square" stroke-linejoin="miter"/><polyline points="1043.16,129.65 1046.88,133.37" fill="none" stroke="#00ff00" stroke-width="1.7" stroke-linecap="square" stroke-linejoin="miter"/><polyline points="1036.65,135.23 1045.95,135.23" fill="none" stroke="#00ff00" stroke-width="1.7" stroke-linecap="square" stroke-linejoin="miter"/><polyline points="1041.30,135.23 1041.30,141.74" fill="none" stroke="#00ff00" stroke-width="1.7" stroke-linecap="square" stroke-linejoin="miter"/><polyline points="1032.93,142.21 1049.67,142.21" fill="none" stroke="#00ff00" stroke-width="1.7" stroke-linecap="square" stroke-linejoin="miter"/><polyline points="1055.93,128.25 1062.44,128.25" fill="none" stroke="#00ff00" stroke-width="1.7" stroke-linecap="square" stroke-linejoin="miter"/><polyline points="1059.65,125.00 1056.86,133.37 1062.44,132.91" fill="none" stroke="#00ff00" stroke-width="1.7" stroke-linecap="square" stroke-linejoin="miter"/><polyline points="1059.65,129.65 1059.65,143.13" fill="none" stroke="#00ff00" stroke-width="1.7" stroke-linecap="square" stroke-linejoin="miter"/><polyline points="1055.93,138.02 1062.44,136.62" fill="none" stroke="#00ff00" stroke-width="1.7" stroke-linecap="square" stroke-linejoin="miter"/><polyline points="1064.30,128.72 1071.74,128.72" fill="none" stroke="#00ff00" stroke-width="1.7" stroke-linecap="square" stroke-linejoin="miter"/><polyline points="1068.48,125.00 1066.62,135.23" fill="none" stroke="#00ff00" stroke-width="1.7" stroke-linecap="square" stroke-linejoin="miter"/><polyline points="1063.37,132.44 1072.67,132.44" fill="none" stroke="#00ff00" stroke-width="1.7" stroke-linecap="square" stroke-linejoin="miter"/><polyline points="1065.23,135.69 1070.81,135.69 1067.09,139.88" fill="none" stroke="#00ff00" stroke-width="1.7" stroke-linecap="square" stroke-linejoin="miter"/><polyline points="1067.09,138.95 1070.81,142.67" fill="none" stroke="#00ff00" stroke-width="1.7" stroke-linecap="square" stroke-linejoin="miter"/><polyline points="1078.00,130.58 1084.51,130.58" fill="none" stroke="#00ff00" stroke-width="1.7" stroke-linecap="square" stroke-linejoin="miter"/><polyline points="1081.72,125.00 1081.72,142.21 1079.86,140.81" fill="none" stroke="#00ff00" stroke-width="1.7" stroke-linecap="square" stroke-linejoin="miter"/><polyline points="1078.00,137.56 1084.51,134.30" fill="none" stroke="#00ff00" stroke-width="1.7" stroke-linecap="square" stroke-linejoin="miter"/><polyline points="1094.74,125.93 1087.30,127.79" fill="none" stroke="#00ff00" stroke-width="1.7" stroke-linecap="square" stroke-linejoin="miter"/><polyline points="1087.30,127.79 1087.30,134.30 1085.44,143.13" fill="none" stroke="#00ff00" stroke-width="1.7" stroke-linecap="square" stroke-linejoin="miter"/><polyline points="1087.30,133.37 1095.67,133.37" fill="none" stroke="#00ff00" stroke-width="1.7" stroke-linecap="square" stroke-linejoin="miter"/><polyline points="1091.95,133.37 1091.95,143.13" fill="none" stroke="#00ff00" stroke-width="1.7" stroke-linecap="square" stroke-linejoin="miter"/><polyline points="1109.37,125.00 1109.37,132.44" fill="none" stroke="#00ff00" stroke-width="1.7" stroke-linecap="square" stroke-linejoin="miter"/><polyline points="1109.37,128.72 1115.88,128.72" fill="none" stroke="#00ff00" stroke-width="1.7" stroke-linecap="square" stroke-linejoin="miter"/><polyline points="1104.72,132.44 1115.88,132.44 1115.88,137.09 1104.72,137.09 1104.72,132.44" fill="none" stroke="#00ff00" stroke-width="1.7" stroke-linecap="square" stroke-linejoin="miter"/><polyline points="1103.79,139.88 1101.93,143.13" fill="none" stroke="#00ff00" stroke-width="1.7" stroke-linecap="square" stroke-linejoin="miter"/><polyline points="1107.51,139.88 1108.44,143.13" fill="none" stroke="#00ff00" stroke-width="1.7" stroke-linecap="square" stroke-linejoin="miter"/><polyline points="1112.16,139.88 1113.09,143.13" fill="none" stroke="#00ff00" stroke-width="1.7" stroke-linecap="square" stroke-linejoin="miter"/><polyline points="1115.88,139.88 1118.67,143.13" fill="none" stroke="#00ff00" stroke-width="1.7" stroke-linecap="square" stroke-linejoin="miter"/></g><text x="1124" y="142" font-size="21.5" fill="#00ff00" textLength="76" lengthAdjust="spacingAndGlyphs" font-weight="bold" >143.880</text><rect x="5" y="551" width="1" height="5" fill="#c0c0c0" /><rect x="13" y="544" width="1" height="12" fill="#c0c0c0" /><rect x="21" y="535" width="1" height="21" fill="#c0c0c0" /><rect x="29" y="528" width="1" height="28" fill="#c0c0c0" /><rect x="37" y="528" width="1" height="28" fill="#c0c0c0" /><rect x="45" y="529" width="1" height="27" fill="#c0c0c0" /><rect x="53" y="526" width="1" height="30" fill="#c0c0c0" /><rect x="61" y="517" width="1" height="39" fill="#c0c0c0" /><rect x="69" y="518" width="1" height="38" fill="#c0c0c0" /><rect x="77" y="517" width="1" height="39" fill="#c0c0c0" /><rect x="85" y="509" width="1" height="47" fill="#c0c0c0" /><rect x="93" y="505" width="1" height="51" fill="#c0c0c0" /><rect x="101" y="508" width="1" height="48" fill="#c0c0c0" /><rect x="109" y="515" width="1" height="41" fill="#c0c0c0" /><rect x="117" y="517" width="1" height="39" fill="#c0c0c0" /><rect x="125" y="514" width="1" height="42" fill="#c0c0c0" /><rect x="133" y="517" width="1" height="39" fill="#c0c0c0" /><rect x="141" y="517" width="1" height="39" fill="#c0c0c0" /><rect x="149" y="515" width="1" height="41" fill="#c0c0c0" /><rect x="157" y="513" width="1" height="43" fill="#c0c0c0" /><rect x="165" y="510" width="1" height="46" fill="#c0c0c0" /><rect x="173" y="505" width="1" height="51" fill="#c0c0c0" /><rect x="181" y="503" width="1" height="53" fill="#c0c0c0" /><rect x="189" y="507" width="1" height="49" fill="#c0c0c0" /><rect x="197" y="506" width="1" height="50" fill="#c0c0c0" /><rect x="205" y="502" width="1" height="54" fill="#c0c0c0" /><rect x="213" y="487" width="1" height="69" fill="#c0c0c0" /><rect x="221" y="478" width="1" height="78" fill="#c0c0c0" /><rect x="229" y="470" width="1" height="86" fill="#c0c0c0" /><rect x="237" y="467" width="1" height="89" fill="#c0c0c0" /><rect x="245" y="466" width="1" height="90" fill="#c0c0c0" /><rect x="253" y="467" width="1" height="89" fill="#c0c0c0" /><rect x="261" y="471" width="1" height="85" fill="#c0c0c0" /><rect x="269" y="480" width="1" height="76" fill="#c0c0c0" /><rect x="277" y="486" width="1" height="70" fill="#c0c0c0" /><rect x="285" y="492" width="1" height="64" fill="#c0c0c0" /><rect x="293" y="497" width="1" height="59" fill="#c0c0c0" /><rect x="301" y="498" width="1" height="58" fill="#c0c0c0" /><rect x="309" y="500" width="1" height="56" fill="#c0c0c0" /><rect x="317" y="502" width="1" height="54" fill="#c0c0c0" /><rect x="325" y="508" width="1" height="48" fill="#c0c0c0" /><rect x="333" y="515" width="1" height="41" fill="#c0c0c0" /><rect x="341" y="518" width="1" height="38" fill="#c0c0c0" /><rect x="349" y="514" width="1" height="42" fill="#c0c0c0" /><rect x="357" y="513" width="1" height="43" fill="#c0c0c0" /><rect x="365" y="512" width="1" height="44" fill="#c0c0c0" /><rect x="373" y="507" width="1" height="49" fill="#c0c0c0" /><rect x="381" y="504" width="1" height="52" fill="#c0c0c0" /><rect x="389" y="494" width="1" height="62" fill="#c0c0c0" /><rect x="397" y="483" width="1" height="73" fill="#c0c0c0" /><rect x="405" y="476" width="1" height="80" fill="#c0c0c0" /><rect x="413" y="471" width="1" height="85" fill="#c0c0c0" /><rect x="421" y="468" width="1" height="88" fill="#c0c0c0" /><rect x="429" y="468" width="1" height="88" fill="#c0c0c0" /><rect x="437" y="472" width="1" height="84" fill="#c0c0c0" /><rect x="445" y="475" width="1" height="81" fill="#c0c0c0" /><rect x="453" y="475" width="1" height="81" fill="#c0c0c0" /><rect x="461" y="472" width="1" height="84" fill="#c0c0c0" /><rect x="469" y="465" width="1" height="91" fill="#c0c0c0" /><rect x="477" y="464" width="1" height="92" fill="#c0c0c0" /><rect x="485" y="464" width="1" height="92" fill="#c0c0c0" /><rect x="493" y="460" width="1" height="96" fill="#c0c0c0" /><rect x="501" y="454" width="1" height="102" fill="#c0c0c0" /><rect x="509" y="453" width="1" height="103" fill="#c0c0c0" /><rect x="517" y="454" width="1" height="102" fill="#c0c0c0" /><rect x="525" y="461" width="1" height="95" fill="#c0c0c0" /><rect x="533" y="467" width="1" height="89" fill="#c0c0c0" /><rect x="541" y="476" width="1" height="80" fill="#c0c0c0" /><rect x="549" y="481" width="1" height="75" fill="#c0c0c0" /><rect x="557" y="488" width="1" height="68" fill="#c0c0c0" /><rect x="565" y="495" width="1" height="61" fill="#c0c0c0" /><rect x="573" y="503" width="1" height="53" fill="#c0c0c0" /><rect x="581" y="504" width="1" height="52" fill="#c0c0c0" /><rect x="589" y="509" width="1" height="47" fill="#c0c0c0" /><rect x="597" y="519" width="1" height="37" fill="#c0c0c0" /><rect x="605" y="528" width="1" height="28" fill="#c0c0c0" /><rect x="613" y="535" width="1" height="21" fill="#c0c0c0" /><rect x="621" y="543" width="1" height="13" fill="#c0c0c0" /><rect x="629" y="545" width="1" height="11" fill="#c0c0c0" /><rect x="637" y="548" width="1" height="8" fill="#c0c0c0" /><rect x="645" y="554" width="1" height="2" fill="#c0c0c0" /><rect x="653" y="555" width="1" height="2" fill="#c0c0c0" /><rect x="661" y="555" width="1" height="5" fill="#c0c0c0" /><rect x="669" y="555" width="1" height="8" fill="#c0c0c0" /><rect x="677" y="555" width="1" height="13" fill="#c0c0c0" /><rect x="685" y="555" width="1" height="11" fill="#c0c0c0" /><rect x="693" y="555" width="1" height="14" fill="#c0c0c0" /><rect x="701" y="555" width="1" height="17" fill="#c0c0c0" /><rect x="709" y="555" width="1" height="20" fill="#c0c0c0" /><rect x="717" y="555" width="1" height="20" fill="#c0c0c0" /><rect x="725" y="555" width="1" height="25" fill="#c0c0c0" /><rect x="733" y="555" width="1" height="19" fill="#c0c0c0" /><rect x="741" y="555" width="1" height="13" fill="#c0c0c0" /><rect x="749" y="555" width="1" height="10" fill="#c0c0c0" /><rect x="757" y="555" width="1" height="5" fill="#c0c0c0" /><rect x="765" y="554" width="1" height="2" fill="#c0c0c0" /><rect x="773" y="550" width="1" height="6" fill="#c0c0c0" /><rect x="781" y="542" width="1" height="14" fill="#c0c0c0" /><rect x="789" y="542" width="1" height="14" fill="#c0c0c0" /><rect x="797" y="544" width="1" height="12" fill="#c0c0c0" /><rect x="805" y="544" width="1" height="12" fill="#c0c0c0" /><rect x="813" y="545" width="1" height="11" fill="#c0c0c0" /><rect x="821" y="549" width="1" height="7" fill="#c0c0c0" /><rect x="829" y="555" width="1" height="4" fill="#c0c0c0" /><rect x="837" y="555" width="1" height="10" fill="#c0c0c0" /><rect x="845" y="555" width="1" height="16" fill="#c0c0c0" /><rect x="853" y="555" width="1" height="22" fill="#c0c0c0" /><rect x="861" y="555" width="1" height="30" fill="#c0c0c0" /><rect x="869" y="555" width="1" height="33" fill="#c0c0c0" /><rect x="877" y="555" width="1" height="33" fill="#c0c0c0" /><rect x="885" y="555" width="1" height="34" fill="#c0c0c0" /><rect x="893" y="555" width="1" height="34" fill="#c0c0c0" /><rect x="901" y="555" width="1" height="35" fill="#c0c0c0" /><rect x="909" y="555" width="1" height="36" fill="#c0c0c0" /><rect x="917" y="555" width="1" height="42" fill="#c0c0c0" /><rect x="925" y="555" width="1" height="36" fill="#c0c0c0" /><rect x="933" y="555" width="1" height="34" fill="#c0c0c0" /><rect x="941" y="555" width="1" height="33" fill="#c0c0c0" /><rect x="949" y="555" width="1" height="31" fill="#c0c0c0" /><rect x="957" y="555" width="1" height="30" fill="#c0c0c0" /><rect x="965" y="555" width="1" height="27" fill="#c0c0c0" /><rect x="973" y="555" width="1" height="27" fill="#c0c0c0" /><rect x="981" y="555" width="1" height="27" fill="#c0c0c0" /><rect x="989" y="555" width="1" height="25" fill="#c0c0c0" /><rect x="997" y="555" width="1" height="24" fill="#c0c0c0" /><rect x="1005" y="555" width="1" height="24" fill="#c0c0c0" /><rect x="1013" y="555" width="1" height="21" fill="#c0c0c0" /><rect x="1021" y="555" width="1" height="21" fill="#c0c0c0" /><rect x="1029" y="555" width="1" height="21" fill="#c0c0c0" /><rect x="1037" y="555" width="1" height="19" fill="#c0c0c0" /><rect x="1045" y="555" width="1" height="16" fill="#c0c0c0" /><rect x="1053" y="555" width="1" height="11" fill="#c0c0c0" /><rect x="1061" y="555" width="1" height="11" fill="#c0c0c0" /><rect x="1069" y="555" width="1" height="8" fill="#c0c0c0" /><rect x="1077" y="555" width="1" height="4" fill="#c0c0c0" /><rect x="1085" y="555" width="1" height="2" fill="#c0c0c0" /><rect x="1093" y="552" width="1" height="4" fill="#c0c0c0" /><rect x="1101" y="548" width="1" height="8" fill="#c0c0c0" /><rect x="1109" y="540" width="1" height="16" fill="#c0c0c0" /><rect x="1117" y="539" width="1" height="17" fill="#c0c0c0" /><rect x="1125" y="540" width="1" height="16" fill="#c0c0c0" /><rect x="1133" y="541" width="1" height="15" fill="#c0c0c0" /><rect x="1141" y="539" width="1" height="17" fill="#c0c0c0" /><rect x="1149" y="538" width="1" height="18" fill="#c0c0c0" /><rect x="1157" y="544" width="1" height="12" fill="#c0c0c0" /><rect x="1165" y="555" width="1" height="1" fill="#c0c0c0" /><rect x="1173" y="555" width="1" height="11" fill="#c0c0c0" /><rect x="1181" y="555" width="1" height="19" fill="#c0c0c0" /><rect x="1189" y="555" width="1" height="28" fill="#c0c0c0" /><rect x="1197" y="555" width="1" height="33" fill="#c0c0c0" /><rect x="1205" y="555" width="1" height="34" fill="#c0c0c0" /><rect x="1213" y="555" width="1" height="30" fill="#c0c0c0" /><rect x="1221" y="555" width="1" height="23" fill="#c0c0c0" /><rect x="1229" y="555" width="1" height="13" fill="#c0c0c0" /><rect x="1237" y="555" width="1" height="5" fill="#c0c0c0" /><rect x="1245" y="555" width="1" height="1" fill="#c0c0c0" /><rect x="1253" y="548" width="1" height="8" fill="#c0c0c0" /><rect x="1261" y="542" width="1" height="14" fill="#c0c0c0" /><rect x="1269" y="538" width="1" height="18" fill="#c0c0c0" /><rect x="1277" y="535" width="1" height="21" fill="#c0c0c0" /><rect x="1285" y="537" width="1" height="19" fill="#c0c0c0" /><rect x="1293" y="536" width="1" height="20" fill="#c0c0c0" /><rect x="1301" y="532" width="1" height="24" fill="#c0c0c0" /><rect x="1309" y="520" width="1" height="36" fill="#c0c0c0" /><rect x="1317" y="505" width="1" height="51" fill="#c0c0c0" /><rect x="1325" y="496" width="1" height="60" fill="#c0c0c0" /><rect x="1333" y="486" width="1" height="70" fill="#c0c0c0" /><rect x="1341" y="481" width="1" height="75" fill="#c0c0c0" /><rect x="1349" y="480" width="1" height="76" fill="#c0c0c0" /><rect x="1357" y="477" width="1" height="79" fill="#c0c0c0" /><rect x="1365" y="474" width="1" height="82" fill="#c0c0c0" /><rect x="1373" y="476" width="1" height="80" fill="#c0c0c0" /><rect x="1381" y="477" width="1" height="79" fill="#c0c0c0" /><rect x="1389" y="481" width="1" height="75" fill="#c0c0c0" /><rect x="1397" y="483" width="1" height="73" fill="#c0c0c0" /><rect x="1405" y="485" width="1" height="71" fill="#c0c0c0" /><rect x="1413" y="490" width="1" height="66" fill="#c0c0c0" /><rect x="1421" y="496" width="1" height="60" fill="#c0c0c0" /><polyline points="-3,554.9 5.5,554.9 13.5,554.9 21.5,553.8 29.5,549.9 37.5,545.0 45.5,542.7 53.5,540.0 61.5,536.0 69.5,531.0 77.5,527.1 85.5,523.2 93.5,519.8 101.5,517.5 109.5,516.0 117.5,514.7 125.5,513.3 133.5,513.3 141.5,513.2 149.5,513.0 157.5,513.4 165.5,514.0 173.5,513.7 181.5,512.3 189.5,511.2 197.5,510.3 205.5,508.6 213.5,505.2 221.5,501.0 229.5,496.1 237.5,491.2 245.5,486.8 253.5,482.7 261.5,478.7 269.5,475.7 277.5,473.9 285.5,474.5 293.5,476.6 301.5,479.8 309.5,483.5 317.5,487.6 325.5,492.3 333.5,497.2 341.5,501.5 349.5,504.7 357.5,507.1 365.5,508.8 373.5,509.8 381.5,510.3 389.5,509.4 397.5,506.5 405.5,502.1 413.5,496.8 421.5,491.6 429.5,486.5 437.5,481.9 445.5,478.3 453.5,475.0 461.5,472.5 469.5,470.5 477.5,469.1 485.5,468.4 493.5,467.4 501.5,465.9 509.5,463.7 517.5,461.3 525.5,459.7 533.5,459.2 541.5,460.4 549.5,462.3 557.5,465.1 565.5,469.0 573.5,474.6 581.5,480.4 589.5,486.6 597.5,493.2 605.5,500.1 613.5,506.8 621.5,513.8 629.5,520.2 637.5,526.2 645.5,532.0 653.5,537.9 661.5,543.5 669.5,548.3 677.5,552.7 685.5,556.1 693.5,559.0 701.5,562.0 709.5,564.9 717.5,567.1 725.5,569.7 733.5,571.3 741.5,571.9 749.5,571.5 757.5,570.9 765.5,569.3 773.5,566.9 781.5,563.3 789.5,559.7 797.5,555.8 805.5,552.6 813.5,550.1 821.5,548.4 829.5,548.3 837.5,549.4 845.5,551.6 853.5,555.4 861.5,560.2 869.5,564.9 877.5,569.7 885.5,574.5 893.5,578.9 901.5,582.4 909.5,585.4 917.5,588.3 925.5,590.0 933.5,590.4 941.5,590.5 949.5,590.3 957.5,590.0 965.5,589.2 973.5,588.3 981.5,587.2 989.5,585.3 997.5,583.9 1005.5,582.8 1013.5,581.4 1021.5,580.1 1029.5,579.0 1037.5,578.2 1045.5,577.0 1053.5,575.2 1061.5,573.7 1069.5,571.9 1077.5,569.7 1085.5,567.6 1093.5,565.0 1101.5,562.0 1109.5,558.2 1117.5,554.7 1125.5,551.9 1133.5,549.1 1141.5,546.5 1149.5,544.2 1157.5,542.9 1165.5,543.2 1173.5,545.1 1181.5,548.8 1189.5,553.7 1197.5,559.0 1205.5,564.3 1213.5,569.4 1221.5,573.8 1229.5,576.4 1237.5,576.8 1245.5,575.7 1253.5,572.9 1261.5,568.3 1269.5,562.7 1277.5,556.8 1285.5,551.5 1293.5,546.8 1301.5,542.8 1309.5,538.4 1317.5,532.7 1325.5,526.8 1333.5,520.6 1341.5,514.1 1349.5,507.9 1357.5,501.1 1365.5,494.1 1373.5,487.7 1381.5,482.9 1389.5,480.1 1397.5,478.7 1405.5,478.5 1413.5,479.5 1421.5,481.3" fill="none" stroke="#ff0000" stroke-width="1" stroke-dasharray="3,3"/><text x="1" y="456" font-size="10.3" fill="#000" textLength="128" lengthAdjust="spacingAndGlyphs"  stroke="#000" stroke-width="0.15">MACD(12,26,9) 0.4658 0.5709</text><line x1="0" y1="638.5" x2="1583" y2="638.5" stroke="#c0c0c0" stroke-width="1" stroke-dasharray="3,3"/><line x1="0" y1="682.5" x2="1583" y2="682.5" stroke="#c0c0c0" stroke-width="1" stroke-dasharray="3,3"/><line x1="0" y1="734.5" x2="1583" y2="734.5" stroke="#c0c0c0" stroke-width="1" stroke-dasharray="3,3"/><polyline points="-3,679.5 5.5,671.0 13.5,670.0 21.5,663.5 29.5,665.5 37.5,674.5 45.5,677.0 53.5,671.5 61.5,660.5 69.5,673.5 77.5,671.5 85.5,663.5 93.5,665.5 101.5,675.5 109.5,682.5 117.5,676.2 125.5,669.6 133.5,676.9 141.5,674.0 149.5,671.1 157.5,669.5 165.5,666.9 173.5,662.3 181.5,667.4 189.5,675.9 197.5,668.8 205.5,664.6 213.5,652.9 221.5,656.1 229.5,654.6 237.5,658.6 245.5,659.6 253.5,661.7 261.5,666.9 269.5,673.9 277.5,673.5 285.5,673.5 293.5,671.8 301.5,667.2 309.5,667.8 317.5,666.9 325.5,677.8 333.5,681.3 341.5,674.6 349.5,663.3 357.5,667.6 365.5,666.4 373.5,660.3 381.5,659.6 389.5,649.2 397.5,645.8 405.5,648.6 413.5,647.8 421.5,648.6 429.5,652.6 437.5,660.2 445.5,659.4 453.5,655.2 461.5,647.3 469.5,643.9 477.5,652.3 485.5,653.0 493.5,645.9 501.5,643.1 509.5,648.3 517.5,652.8 525.5,663.1 533.5,666.3 541.5,670.2 549.5,667.5 557.5,670.9 565.5,674.9 573.5,678.2 581.5,666.7 589.5,675.0 597.5,688.5 605.5,688.5 613.5,689.0 621.5,693.5 629.5,682.0 637.5,684.6 645.5,692.1 653.5,690.9 661.5,689.6 669.5,693.3 677.5,696.9 685.5,684.0 693.5,692.2 701.5,693.1 709.5,696.5 717.5,688.1 725.5,699.6 733.5,679.4 741.5,677.8 749.5,681.1 757.5,677.1 765.5,671.0 773.5,675.2 781.5,667.5 789.5,680.1 797.5,681.8 805.5,680.1 813.5,681.5 821.5,686.4 829.5,700.1 837.5,694.0 845.5,694.7 853.5,698.5 861.5,703.3 869.5,697.1 877.5,692.3 885.5,693.6 893.5,694.0 901.5,697.1 909.5,698.8 917.5,706.1 925.5,686.5 933.5,688.2 941.5,691.3 949.5,691.3 957.5,691.8 965.5,685.7 973.5,691.9 981.5,693.4 989.5,690.7 997.5,688.0 1005.5,692.1 1013.5,685.2 1021.5,690.0 1029.5,691.7 1037.5,691.7 1045.5,680.2 1053.5,678.9 1061.5,687.8 1069.5,679.8 1077.5,675.5 1085.5,678.4 1093.5,670.2 1101.5,668.5 1109.5,661.1 1117.5,674.5 1125.5,679.0 1133.5,679.7 1141.5,672.2 1149.5,672.9 1157.5,690.4 1165.5,703.9 1173.5,704.3 1181.5,702.9 1189.5,707.8 1197.5,703.5 1205.5,696.7 1213.5,685.4 1221.5,678.2 1229.5,671.5 1237.5,671.1 1245.5,671.1 1253.5,666.9 1261.5,666.9 1269.5,666.9 1277.5,666.9 1285.5,680.1 1293.5,671.9 1301.5,666.8 1309.5,654.2 1317.5,646.0 1325.5,650.9 1333.5,648.0 1341.5,648.7 1349.5,658.6 1357.5,653.9 1365.5,653.0 1373.5,661.3 1381.5,659.1 1389.5,664.6 1397.5,661.4 1405.5,661.4 1413.5,670.6 1421.5,670.6" fill="none" stroke="#1e90ff" stroke-width="1"/><text x="1" y="620" font-size="10.3" fill="#000" textLength="68" lengthAdjust="spacingAndGlyphs"  stroke="#000" stroke-width="0.15">RSI(14) 58.1169</text><rect x="1584" y="438" width="2" height="1" fill="#000" /><text x="1589" y="442" font-size="10.3" fill="#000" textLength="33" lengthAdjust="spacingAndGlyphs" stroke="#000" stroke-width="0.15">136.460</text><rect x="1584" y="405" width="2" height="1" fill="#000" /><text x="1589" y="409" font-size="10.3" fill="#000" textLength="33" lengthAdjust="spacingAndGlyphs" stroke="#000" stroke-width="0.15">137.260</text><rect x="1584" y="372" width="2" height="1" fill="#000" /><text x="1589" y="376" font-size="10.3" fill="#000" textLength="33" lengthAdjust="spacingAndGlyphs" stroke="#000" stroke-width="0.15">138.040</text><rect x="1584" y="339" width="2" height="1" fill="#000" /><text x="1589" y="343" font-size="10.3" fill="#000" textLength="33" lengthAdjust="spacingAndGlyphs" stroke="#000" stroke-width="0.15">138.840</text><rect x="1584" y="306" width="2" height="1" fill="#000" /><text x="1589" y="310" font-size="10.3" fill="#000" textLength="33" lengthAdjust="spacingAndGlyphs" stroke="#000" stroke-width="0.15">139.620</text><rect x="1584" y="273" width="2" height="1" fill="#000" /><text x="1589" y="277" font-size="10.3" fill="#000" textLength="33" lengthAdjust="spacingAndGlyphs" stroke="#000" stroke-width="0.15">140.420</text><rect x="1584" y="240" width="2" height="1" fill="#000" /><text x="1589" y="244" font-size="10.3" fill="#000" textLength="33" lengthAdjust="spacingAndGlyphs" stroke="#000" stroke-width="0.15">141.220</text><rect x="1584" y="207" width="2" height="1" fill="#000" /><text x="1589" y="211" font-size="10.3" fill="#000" textLength="33" lengthAdjust="spacingAndGlyphs" stroke="#000" stroke-width="0.15">142.000</text><rect x="1584" y="174" width="2" height="1" fill="#000" /><text x="1589" y="178" font-size="10.3" fill="#000" textLength="33" lengthAdjust="spacingAndGlyphs" stroke="#000" stroke-width="0.15">142.800</text><rect x="1584" y="141" width="2" height="1" fill="#000" /><text x="1589" y="145" font-size="10.3" fill="#000" textLength="33" lengthAdjust="spacingAndGlyphs" stroke="#000" stroke-width="0.15">143.580</text><rect x="1584" y="108" width="2" height="1" fill="#000" /><text x="1589" y="112" font-size="10.3" fill="#000" textLength="33" lengthAdjust="spacingAndGlyphs" stroke="#000" stroke-width="0.15">144.300</text><rect x="1584" y="42" width="2" height="1" fill="#000" /><rect x="1584" y="75" width="2" height="1" fill="#000" /><rect x="1585" y="39" width="41" height="11" fill="#ff0000" /><text x="1589" y="48.5" font-size="10.3" fill="#fff" textLength="32.5" lengthAdjust="spacingAndGlyphs"  stroke="#fff" stroke-width="0.15">145.892</text><rect x="1585" y="71" width="41" height="11" fill="#ff0000" /><text x="1589" y="80.5" font-size="10.3" fill="#fff" textLength="32.5" lengthAdjust="spacingAndGlyphs"  stroke="#fff" stroke-width="0.15">145.138</text><rect x="1585" y="106" width="41" height="11" fill="#000000" /><text x="1589" y="115.5" font-size="10.3" fill="#fff" textLength="32.5" lengthAdjust="spacingAndGlyphs"  stroke="#fff" stroke-width="0.15">144.284</text><rect x="1585" y="123" width="41" height="11" fill="#32cd32" /><text x="1589" y="132.5" font-size="10.3" fill="#fff" textLength="32.5" lengthAdjust="spacingAndGlyphs"  stroke="#fff" stroke-width="0.15">143.880</text><rect x="1585" y="144" width="41" height="11" fill="#0000ff" /><text x="1589" y="153.5" font-size="10.3" fill="#fff" textLength="32.5" lengthAdjust="spacingAndGlyphs"  stroke="#fff" stroke-width="0.15">143.363</text><rect x="1585" y="168" width="41" height="11" fill="#0000ff" /><text x="1589" y="177.5" font-size="10.3" fill="#fff" textLength="32.5" lengthAdjust="spacingAndGlyphs"  stroke="#fff" stroke-width="0.15">142.787</text><rect x="1584" y="445" width="2" height="1" fill="#000" /><text x="1587" y="454" font-size="10.3" fill="#000" textLength="27.5" lengthAdjust="spacingAndGlyphs"  stroke="#000" stroke-width="0.15">0.8534</text><rect x="1584" y="555" width="2" height="1" fill="#000" /><text x="1587.5" y="559.5" font-size="10.3" fill="#000" textLength="17.5" lengthAdjust="spacingAndGlyphs"  stroke="#000" stroke-width="0.15">0.00</text><rect x="1584" y="604" width="2" height="1" fill="#000" /><text x="1587" y="602" font-size="10.3" fill="#000" textLength="30.5" lengthAdjust="spacingAndGlyphs"  stroke="#000" stroke-width="0.15">-0.3818</text><rect x="1584" y="609" width="2" height="1" fill="#000" /><text x="1587.5" y="618" font-size="10.3" fill="#000" textLength="15" lengthAdjust="spacingAndGlyphs"  stroke="#000" stroke-width="0.15">100</text><rect x="1584" y="638" width="2" height="1" fill="#000" /><text x="1586" y="642" font-size="10.3" fill="#000" textLength="10" lengthAdjust="spacingAndGlyphs"  stroke="#000" stroke-width="0.15">80</text><rect x="1584" y="682" width="2" height="1" fill="#000" /><text x="1586" y="686" font-size="10.3" fill="#000" textLength="10" lengthAdjust="spacingAndGlyphs"  stroke="#000" stroke-width="0.15">50</text><rect x="1584" y="734" width="2" height="1" fill="#000" /><text x="1586" y="738" font-size="10.3" fill="#000" textLength="10" lengthAdjust="spacingAndGlyphs"  stroke="#000" stroke-width="0.15">15</text><rect x="1584" y="756" width="2" height="1" fill="#000" /><text x="1587.5" y="754" font-size="10.3" fill="#000" textLength="5" lengthAdjust="spacingAndGlyphs"  stroke="#000" stroke-width="0.15">0</text><text x="-4" y="770" font-size="10.3" fill="#000" textLength="50.5" lengthAdjust="spacingAndGlyphs"  stroke="#000" stroke-width="0.15">11 Jan 2019</text><rect x="61" y="758" width="1" height="3" fill="#000" /><text x="61" y="770" font-size="10.3" fill="#000" textLength="52.5" lengthAdjust="spacingAndGlyphs"  stroke="#000" stroke-width="0.15">14 Jan 12:00</text><rect x="125" y="758" width="1" height="3" fill="#000" /><text x="125" y="770" font-size="10.3" fill="#000" textLength="52.5" lengthAdjust="spacingAndGlyphs"  stroke="#000" stroke-width="0.15">15 Jan 20:00</text><rect x="189" y="758" width="1" height="3" fill="#000" /><text x="189" y="770" font-size="10.3" fill="#000" textLength="52.5" lengthAdjust="spacingAndGlyphs"  stroke="#000" stroke-width="0.15">17 Jan 04:00</text><rect x="253" y="758" width="1" height="3" fill="#000" /><text x="253" y="770" font-size="10.3" fill="#000" textLength="52.5" lengthAdjust="spacingAndGlyphs"  stroke="#000" stroke-width="0.15">18 Jan 12:00</text><rect x="317" y="758" width="1" height="3" fill="#000" /><text x="317" y="770" font-size="10.3" fill="#000" textLength="52.5" lengthAdjust="spacingAndGlyphs"  stroke="#000" stroke-width="0.15">21 Jan 20:00</text><rect x="381" y="758" width="1" height="3" fill="#000" /><text x="381" y="770" font-size="10.3" fill="#000" textLength="52.5" lengthAdjust="spacingAndGlyphs"  stroke="#000" stroke-width="0.15">23 Jan 04:00</text><rect x="445" y="758" width="1" height="3" fill="#000" /><text x="445" y="770" font-size="10.3" fill="#000" textLength="52.5" lengthAdjust="spacingAndGlyphs"  stroke="#000" stroke-width="0.15">24 Jan 12:00</text><rect x="509" y="758" width="1" height="3" fill="#000" /><text x="509" y="770" font-size="10.3" fill="#000" textLength="52.5" lengthAdjust="spacingAndGlyphs"  stroke="#000" stroke-width="0.15">27 Jan 23:00</text><rect x="573" y="758" width="1" height="3" fill="#000" /><text x="573" y="770" font-size="10.3" fill="#000" textLength="52.5" lengthAdjust="spacingAndGlyphs"  stroke="#000" stroke-width="0.15">29 Jan 04:00</text><rect x="637" y="758" width="1" height="3" fill="#000" /><text x="637" y="770" font-size="10.3" fill="#000" textLength="52.5" lengthAdjust="spacingAndGlyphs"  stroke="#000" stroke-width="0.15">30 Jan 12:00</text><rect x="701" y="758" width="1" height="3" fill="#000" /><text x="701" y="770" font-size="10.3" fill="#000" textLength="52.5" lengthAdjust="spacingAndGlyphs"  stroke="#000" stroke-width="0.15">31 Jan 20:00</text><rect x="765" y="758" width="1" height="3" fill="#000" /><text x="765" y="770" font-size="10.3" fill="#000" textLength="47" lengthAdjust="spacingAndGlyphs"  stroke="#000" stroke-width="0.15">4 Feb 04:00</text><rect x="829" y="758" width="1" height="3" fill="#000" /><text x="829" y="770" font-size="10.3" fill="#000" textLength="47" lengthAdjust="spacingAndGlyphs"  stroke="#000" stroke-width="0.15">5 Feb 12:00</text><rect x="893" y="758" width="1" height="3" fill="#000" /><text x="893" y="770" font-size="10.3" fill="#000" textLength="47" lengthAdjust="spacingAndGlyphs"  stroke="#000" stroke-width="0.15">6 Feb 20:00</text><rect x="957" y="758" width="1" height="3" fill="#000" /><text x="957" y="770" font-size="10.3" fill="#000" textLength="47" lengthAdjust="spacingAndGlyphs"  stroke="#000" stroke-width="0.15">8 Feb 04:00</text><rect x="1021" y="758" width="1" height="3" fill="#000" /><text x="1021" y="770" font-size="10.3" fill="#000" textLength="52.5" lengthAdjust="spacingAndGlyphs"  stroke="#000" stroke-width="0.15">11 Feb 12:00</text><rect x="1085" y="758" width="1" height="3" fill="#000" /><text x="1085" y="770" font-size="10.3" fill="#000" textLength="52.5" lengthAdjust="spacingAndGlyphs"  stroke="#000" stroke-width="0.15">12 Feb 20:00</text><rect x="1149" y="758" width="1" height="3" fill="#000" /><text x="1149" y="770" font-size="10.3" fill="#000" textLength="52.5" lengthAdjust="spacingAndGlyphs"  stroke="#000" stroke-width="0.15">14 Feb 04:00</text><rect x="1213" y="758" width="1" height="3" fill="#000" /><text x="1213" y="770" font-size="10.3" fill="#000" textLength="52.5" lengthAdjust="spacingAndGlyphs"  stroke="#000" stroke-width="0.15">15 Feb 12:00</text><rect x="1277" y="758" width="1" height="3" fill="#000" /><text x="1277" y="770" font-size="10.3" fill="#000" textLength="52.5" lengthAdjust="spacingAndGlyphs"  stroke="#000" stroke-width="0.15">18 Feb 20:00</text><rect x="1341" y="758" width="1" height="3" fill="#000" /><text x="1341" y="770" font-size="10.3" fill="#000" textLength="52.5" lengthAdjust="spacingAndGlyphs"  stroke="#000" stroke-width="0.15">20 Feb 04:00</text><rect x="1405" y="758" width="1" height="3" fill="#000" /><text x="1405" y="770" font-size="10.3" fill="#000" textLength="52.5" lengthAdjust="spacingAndGlyphs"  stroke="#000" stroke-width="0.15">21 Feb 12:00</text><polygon points="0,43 3,39 6,43" fill="#000" stroke="none" stroke-width="1" shape-rendering="auto"/><text x="12.5" y="44" font-size="10.3" fill="#000" textLength="199" lengthAdjust="spacingAndGlyphs"  stroke="#000" stroke-width="0.15">GBPJPY-,H4&#160; 144.287 144.338 144.226 144.284</text><polygon points="1419,33 1428,33 1423.5,38" fill="#c0c0c0" stroke="none" stroke-width="1" shape-rendering="auto"/><defs>
<linearGradient id="gtab" x1="0" y1="0" x2="0" y2="1"><stop offset="0" stop-color="#f65b5b"/><stop offset="1" stop-color="#df3232"/></linearGradient>
<linearGradient id="gpan" x1="0" y1="0" x2="0" y2="1"><stop offset="0" stop-color="#dc3030"/><stop offset="1" stop-color="#a90202"/></linearGradient>
</defs><rect x="0" y="76" width="109" height="40" fill="#b80a0a" /><rect x="1" y="77" width="107" height="38" fill="url(#gpan)" /><rect x="111" y="76" width="108" height="40" fill="#b80a0a" /><rect x="112" y="77" width="106" height="38" fill="url(#gpan)" /><rect x="0" y="52" width="52" height="25" fill="#c41010" /><rect x="1" y="53" width="50" height="24" fill="url(#gtab)" /><rect x="4" y="75" width="44" height="1" fill="#8a0000" /><rect x="4" y="76" width="44" height="1" fill="#f07070" /><text x="11.8" y="68" font-size="12" fill="#fff" textLength="27" lengthAdjust="spacingAndGlyphs" >SELL</text><rect x="167" y="52" width="52" height="25" fill="#c41010" /><rect x="168" y="53" width="50" height="24" fill="url(#gtab)" /><rect x="171" y="75" width="44" height="1" fill="#8a0000" /><rect x="171" y="76" width="44" height="1" fill="#f07070" /><text x="180.0" y="68" font-size="12" fill="#fff" textLength="24.5" lengthAdjust="spacingAndGlyphs" >BUY</text><rect x="54" y="52" width="111" height="22" fill="#b8b8b8" /><rect x="55" y="53" width="109" height="20" fill="#ffffff" /><rect x="55" y="53" width="20" height="20" fill="#e6e6e6" /><rect x="75" y="53" width="1" height="20" fill="#b8b8b8" /><rect x="143" y="53" width="21" height="20" fill="#e6e6e6" /><rect x="143" y="53" width="1" height="20" fill="#b8b8b8" /><polygon points="62,61 68,61 65,64" fill="#000" stroke="none" stroke-width="1" shape-rendering="auto"/><polygon points="151,64 157,64 154,61" fill="#000" stroke="none" stroke-width="1" shape-rendering="auto"/><text x="140" y="67" font-size="12" fill="#000" textLength="23.5" lengthAdjust="spacingAndGlyphs" text-anchor="end" >0.10</text><rect x="109" y="76" width="2" height="40" fill="#ffffff" /><text x="23.5" y="107" font-size="12" fill="#fff" textLength="21" lengthAdjust="spacingAndGlyphs" font-weight="bold" >144</text><text x="47.5" y="107" font-size="33" fill="#fff" textLength="35.5" lengthAdjust="spacingAndGlyphs" >28</text><text x="86.5" y="91" font-size="12.5" fill="#fff" font-weight="bold" >4</text><text x="133" y="107" font-size="12" fill="#fff" textLength="21" lengthAdjust="spacingAndGlyphs" font-weight="bold" >144</text><text x="158.5" y="107" font-size="33" fill="#fff" textLength="35.5" lengthAdjust="spacingAndGlyphs" >39</text><text x="197.5" y="91" font-size="12.5" fill="#fff" font-weight="bold" >8</text></svg></body></html>
